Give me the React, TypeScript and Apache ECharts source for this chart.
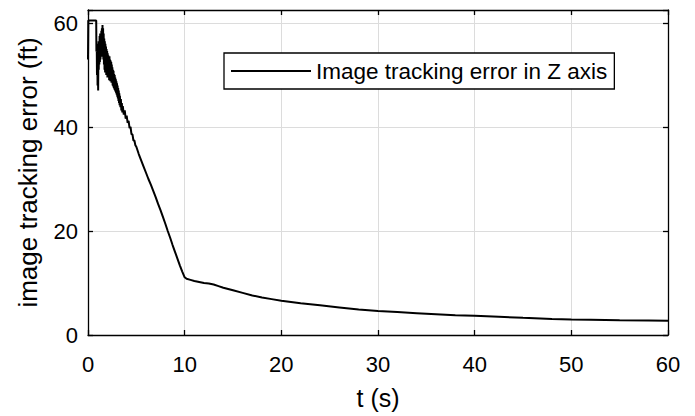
import React, { useEffect, useRef } from "react";
import * as echarts from "echarts";

const seriesName = "Image tracking error in Z axis";
const xTitle = "t (s)";
const yTitle = "image tracking error (ft)";

const timeS: number[] = [
  0.0, 0.03, 0.4, 0.85, 0.87,
  0.9, 0.93, 0.96, 0.99, 1.02, 1.05, 1.08, 1.11, 1.14, 1.17, 1.2, 1.23, 1.26, 1.29, 1.32, 1.35,
  1.38, 1.41, 1.44, 1.47, 1.5, 1.53, 1.56, 1.59, 1.62, 1.65, 1.68, 1.71, 1.74, 1.77, 1.8, 1.83,
  1.86, 1.89, 1.92, 1.95, 1.98, 2.01, 2.04, 2.07, 2.1, 2.13, 2.16, 2.19, 2.22, 2.25, 2.28, 2.31,
  2.34, 2.37, 2.4, 2.43, 2.46, 2.49, 2.52, 2.55, 2.58, 2.61, 2.64, 2.67, 2.7, 2.73, 2.76, 2.79,
  2.82, 2.85, 2.88, 2.91, 2.94, 2.97, 3.0, 3.03, 3.06, 3.09, 3.12, 3.15, 3.18, 3.21, 3.24, 3.27,
  3.3, 3.35, 3.4, 3.45, 3.5, 3.55, 3.6, 3.7, 3.8, 3.9, 4.0, 4.1, 4.2, 4.3, 4.4, 4.5,
  4.6, 4.7, 4.8, 4.9, 5.0, 5.25, 5.5, 5.75, 6.0, 6.25, 6.5, 6.75, 7.0, 7.25, 7.5, 7.75,
  8.0, 8.25, 8.5, 8.75, 9.0, 9.25, 9.5, 9.75, 10.0, 10.2, 10.6, 11.0, 11.5, 12.0, 12.5, 13.0,
  13.5, 14.0, 15.0, 16.0, 17.0, 18.0, 19.0, 20.0, 22.0, 24.0, 26.0, 28.0, 30.0, 32.0, 34.0, 36.0,
  38.0, 40.0, 42.5, 45.0, 48.0, 50.0, 52.0, 55.0, 58.0, 60.0,
];

const errorFt: number[] = [
  53.0, 60.5, 60.5, 60.5, 54.5,
  56.5, 50.0, 55.0, 48.0, 55.5, 47.0, 56.0, 51.0, 56.5, 52.0, 57.5, 52.5, 58.0, 53.0, 57.5, 54.0,
  58.5, 53.5, 59.0, 55.0, 59.6, 54.5, 59.0, 53.0, 58.0, 52.0, 57.0, 51.0, 56.5, 50.5, 56.0, 51.0,
  55.5, 50.0, 55.0, 50.5, 54.6, 49.5, 54.2, 50.3, 53.8, 49.5, 53.5, 49.0, 53.6, 49.8, 53.0, 48.8,
  52.8, 49.0, 52.5, 48.5, 52.0, 48.8, 51.5, 48.0, 51.0, 47.8, 50.8, 47.5, 50.2, 47.2, 50.0, 47.0,
  49.5, 46.8, 49.2, 46.5, 48.8, 46.2, 48.4, 45.8, 48.0, 45.5, 47.5, 45.0, 47.0, 44.6, 46.5, 44.2,
  46.0, 43.8, 45.4, 43.2, 44.6, 42.8, 44.0, 42.4, 43.2, 41.6, 42.2, 40.8, 41.2, 39.8, 40.0, 38.6,
  38.6, 37.4, 37.4, 36.5, 36.2, 34.8, 33.6, 32.4, 31.2, 30.0, 28.9, 27.7, 26.5, 25.2, 24.0, 22.7,
  21.4, 20.0, 18.7, 17.3, 16.0, 14.7, 13.4, 12.2, 11.1, 10.8, 10.6, 10.4, 10.2, 10.0, 9.9, 9.7,
  9.4, 9.1, 8.6, 8.1, 7.6, 7.2, 6.9, 6.6, 6.1, 5.7, 5.3, 4.9, 4.6, 4.4, 4.2, 4.0,
  3.8, 3.7, 3.5, 3.3, 3.1, 3.0, 2.95, 2.85, 2.8, 2.75,
];

const xTicks = { min: 0, max: 60, interval: 10 };
const yTicks = { min: 0, max: 62.5, interval: 20 };

const FONT = "'Liberation Sans', Arial, Helvetica, sans-serif";

export default function App() {
  const ref = useRef<HTMLDivElement>(null);
  useEffect(() => {
    if (!ref.current) return;
    const chart = echarts.init(ref.current, null, { renderer: "svg" });
    const data = timeS.map((t, i) => [t, errorFt[i]]);
    const axisLine = { show: true, onZero: false, lineStyle: { color: "#000", width: 1.3 } };
    const tick = { show: true, inside: true, length: 5, lineStyle: { color: "#000", width: 1.3 } };
    const grid = { show: true, lineStyle: { color: "#dcdcdc", width: 1 } };
    const label = { color: "#000", fontSize: 22, fontFamily: FONT };
    chart.setOption({
      animation: false,
      backgroundColor: "#fff",
      grid: { left: 88, right: 27, top: 10, bottom: 81, containLabel: false },
      legend: {
        show: true,
        left: 224,
        top: 53,
        padding: [6, 7, 6, 7],
        borderColor: "#000",
        borderWidth: 1.3,
        backgroundColor: "#fff",
        itemWidth: 80,
        itemHeight: 2,
        icon: "rect",
        textStyle: { color: "#000", fontSize: 22.5, fontFamily: FONT, lineHeight: 24 },
        data: [seriesName],
      },
      xAxis: [
        {
          type: "value",
          position: "bottom",
          ...xTicks,
          name: xTitle,
          nameLocation: "middle",
          nameGap: 50,
          nameTextStyle: { color: "#000", fontSize: 25, fontFamily: FONT },
          axisLine,
          axisTick: tick,
          splitLine: grid,
          axisLabel: { ...label, margin: 18 },
        },
        {
          type: "value",
          position: "top",
          ...xTicks,
          axisLine,
          axisTick: tick,
          splitLine: { show: false },
          axisLabel: { show: false },
        },
      ],
      yAxis: [
        {
          type: "value",
          position: "left",
          ...yTicks,
          name: yTitle,
          nameLocation: "middle",
          nameGap: 47,
          nameTextStyle: { color: "#000", fontSize: 26, fontFamily: FONT },
          axisLine,
          axisTick: tick,
          splitLine: grid,
          axisLabel: {
            ...label,
            margin: 10,
            formatter: (v: number) => (v % 20 === 0 ? String(v) : ""),
          },
        },
        {
          type: "value",
          position: "right",
          ...yTicks,
          axisLine,
          axisTick: tick,
          splitLine: { show: false },
          axisLabel: { show: false },
        },
      ],
      series: [
        {
          name: seriesName,
          type: "line",
          xAxisIndex: 0,
          yAxisIndex: 0,
          data,
          showSymbol: false,
          symbol: "none",
          color: "#000",
          lineStyle: { color: "#000", width: 2 },
        },
      ],
    });
    return () => chart.dispose();
  }, []);
  return (
    <div
      ref={ref}
      style={{ position: "fixed", left: 0, top: 0, width: 695, height: 416, background: "#fff" }}
    />
  );
}
